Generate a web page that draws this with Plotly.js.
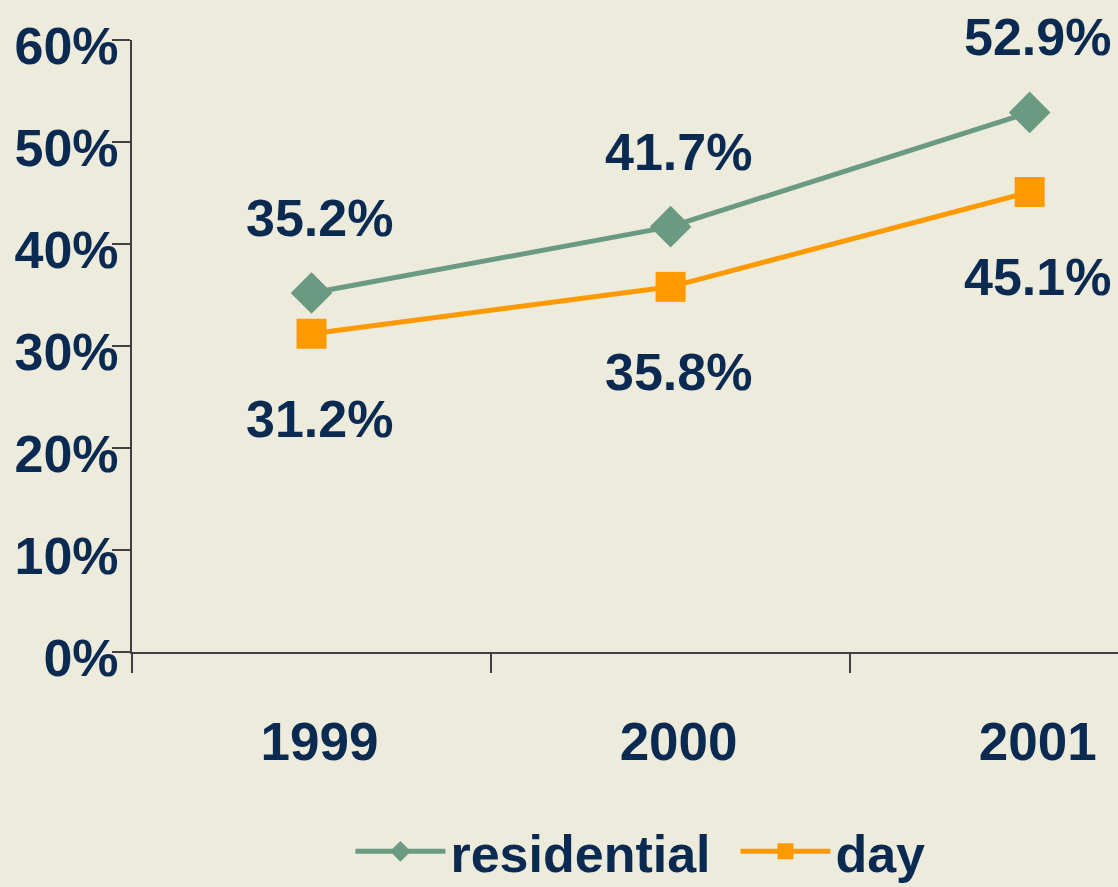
<!DOCTYPE html>
<html>
<head>
<meta charset="utf-8">
<script src="https://cdn.plot.ly/plotly-3.0.1.min.js"></script>
<style>
	html, body { margin: 0; padding: 0; background: #ecebdc; }
	#plot { width: 1118px; height: 887px; }
</style>
</head>
<body>
<div id="plot"></div>
<script>
	const years = ["1999", "2000", "2001"];
	const residential = [35.2, 41.7, 52.9];
	const day = [31.2, 35.8, 45.1];
	const y_ticks = [0, 10, 20, 30, 40, 50, 60];
	const PCT = "\u0025";
	const y_ticktext = y_ticks.map(v => v + PCT);

	const navy = "#0b2a52";
	function bigFont(size) {
		return { family: "Liberation Sans, Arial, sans-serif", size: size, color: navy, weight: "bold" };
	}

	// 数据标签：residential 在上方，day 在下方
	const labels = [];
	years.forEach((yr, i) => {
		labels.push({ x: i, y: residential[i], text: residential[i].toFixed(1) + PCT, xref: "x", yref: "y",
			showarrow: false, xshift: 8, yshift: 75, font: bigFont(52) });
		labels.push({ x: i, y: day[i], text: day[i].toFixed(1) + PCT, xref: "x", yref: "y",
			showarrow: false, xshift: 8, yshift: -85, font: bigFont(52) });
	});

	const data = [
		{
			name: "residential",
			x: years,
			y: residential,
			mode: "lines+markers",
			line: { color: "#6b9a82", width: 5 },
			marker: { symbol: "diamond", size: 32, color: "#6b9a82" },
			hoverinfo: "skip"
		},
		{
			name: "day",
			x: years,
			y: day,
			mode: "lines+markers",
			line: { color: "#ff9900", width: 5 },
			marker: { symbol: "square", size: 30, color: "#ff9900" },
			hoverinfo: "skip"
		}
	];

	const layout = {
		width: 1118,
		height: 887,
		margin: { l: 132, r: 0, t: 40, b: 235, autoexpand: false },
		paper_bgcolor: "#ecebdc",
		plot_bgcolor: "#ecebdc",
		font: bigFont(52),
		showlegend: true,
		legend: {
			orientation: "h",
			x: 0.612,
			y: -0.326,
			xanchor: "center",
			yanchor: "middle",
			font: bigFont(52),
			itemwidth: 90,
			entrywidth: 280,
			bgcolor: "rgba(0,0,0,0)"
		},
		xaxis: {
			type: "category",
			range: [-0.5, 2.246],
			tickson: "boundaries",
			ticks: "outside",
			ticklen: 19,
			tickwidth: 2,
			tickcolor: "#404040",
			showline: true,
			linecolor: "#404040",
			linewidth: 2,
			showgrid: false,
			zeroline: false,
			ticklabelstandoff: 42,
			ticklabelshift: 8,
			tickfont: bigFont(53)
		},
		yaxis: {
			range: [0, 60],
			tickmode: "array",
			tickvals: y_ticks,
			ticktext: y_ticktext,
			ticks: "outside",
			ticklen: 18,
			tickwidth: 2,
			tickcolor: "#404040",
			showline: true,
			linecolor: "#404040",
			linewidth: 2,
			showgrid: false,
			zeroline: false,
			ticklabelstandoff: -17,
			ticklabelshift: 6,
			tickfont: bigFont(52)
		},
		annotations: labels
	};

	Plotly.newPlot("plot", data, layout, { staticPlot: true });
</script>
</body>
</html>
